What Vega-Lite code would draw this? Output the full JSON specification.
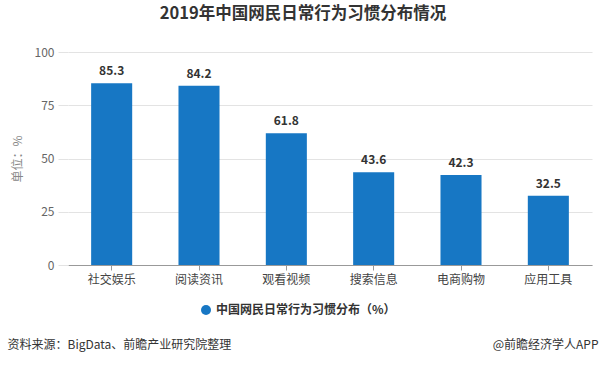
{
  "$schema": "https://vega.github.io/schema/vega-lite/v6.json",
  "width": 524,
  "height": 213,
  "autosize": {"type": "none"},
  "padding": {"left": 68, "top": 52, "right": 11, "bottom": 100},
  "background": "white",
  "title": {
    "text": "2019年中国网民日常行为习惯分布情况",
    "anchor": "middle",
    "frame": "group",
    "dx": -27,
    "offset": 24,
    "fontSize": 16.5,
    "fontWeight": "bold",
    "color": "#333333",
    "font": "Noto Sans CJK SC"
  },
  "config": {
    "font": "Noto Sans CJK SC",
    "view": {"stroke": null},
    "legend": {"orient": "none", "legendX": 132, "legendY": 252}
  },
  "data": {
    "values": [
      {"category": "社交娱乐", "value": 85.3},
      {"category": "阅读资讯", "value": 84.2},
      {"category": "观看视频", "value": 61.8},
      {"category": "搜索信息", "value": 43.6},
      {"category": "电商购物", "value": 42.3},
      {"category": "应用工具", "value": 32.5}
    ]
  },
  "resolve": {"axis": {"y": "independent"}},
  "layer": [
    {
      "mark": {"type": "bar"},
      "encoding": {
        "x": {
          "field": "category",
          "type": "nominal",
          "sort": null,
          "scale": {"paddingInner": 0.53, "paddingOuter": 0.265},
          "axis": {
            "labelAngle": 0,
            "labelFontSize": 12,
            "labelColor": "#444444",
            "labelPadding": 4,
            "tickSize": 5,
            "tickColor": "#999999",
            "domainColor": "#999999",
            "title": "资料来源：BigData、前瞻产业研究院整理",
            "titleAnchor": "start",
            "titleAlign": "left",
            "titleX": -61,
            "titleY": 79,
            "titleBaseline": "middle",
            "titleFontSize": 12,
            "titleFontWeight": "normal",
            "titleColor": "#333333"
          }
        },
        "y": {
          "field": "value",
          "type": "quantitative",
          "scale": {"domain": [0, 100]},
          "axis": {
            "values": [0, 25, 50, 75, 100],
            "title": "单位：%",
            "titleFontSize": 12,
            "titleFontWeight": "normal",
            "titleColor": "#888888",
            "titlePadding": 10,
            "labelFontSize": 12,
            "labelColor": "#666666",
            "labelPadding": 4,
            "tickSize": 10,
            "tickColor": "#e3e3e3",
            "gridColor": "#e3e3e3",
            "domain": false
          }
        },
        "color": {
          "datum": "中国网民日常行为习惯分布（%）",
          "type": "nominal",
          "scale": {"range": ["#1777C4"]},
          "legend": {
            "title": null,
            "symbolType": "circle",
            "symbolSize": 100,
            "labelFontSize": 12,
            "labelFontWeight": "bold",
            "labelColor": "#333333",
            "labelLimit": 0
          }
        }
      }
    },
    {
      "mark": {"type": "text", "baseline": "bottom", "dy": -5, "fontSize": 12, "fontWeight": "bold", "color": "#333333"},
      "encoding": {
        "x": {"field": "category", "type": "nominal", "sort": null},
        "y": {
          "field": "value",
          "type": "quantitative",
          "axis": {
            "orient": "right",
            "labels": false,
            "ticks": false,
            "domain": false,
            "grid": false,
            "title": "@前瞻经济学人APP",
            "titleAngle": 0,
            "titleX": 6,
            "titleY": 292,
            "titleAlign": "right",
            "titleBaseline": "middle",
            "titleFontSize": 12,
            "titleFontWeight": "normal",
            "titleColor": "#333333"
          }
        },
        "text": {"field": "value", "type": "quantitative", "format": ".1f"}
      }
    }
  ]
}
